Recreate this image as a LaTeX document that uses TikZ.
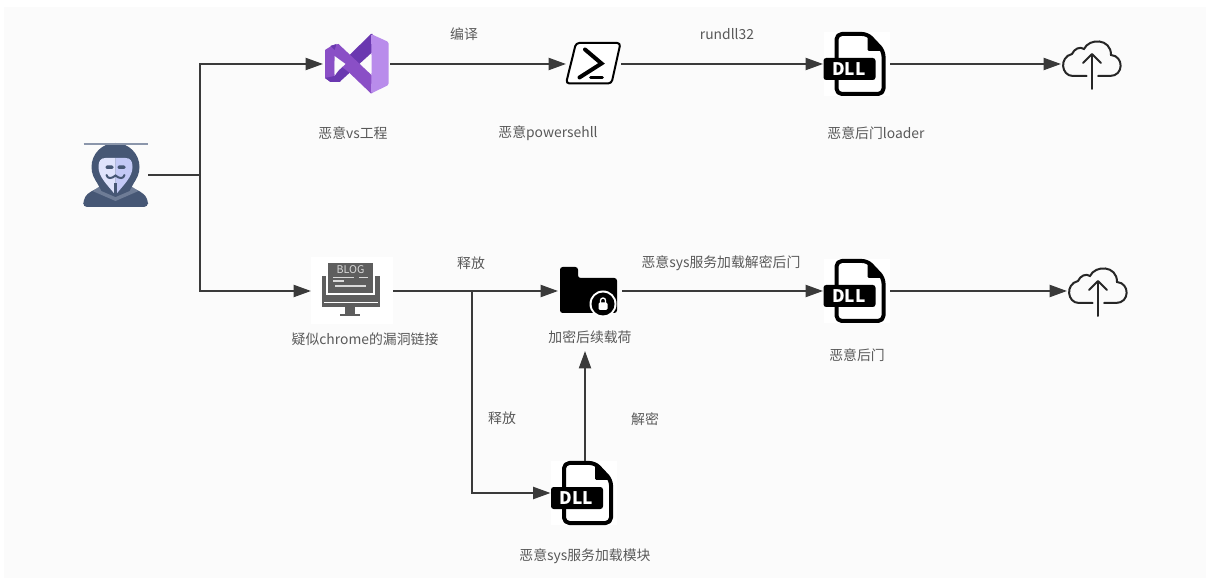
\documentclass[tikz,border=0pt]{standalone}
\usepackage{fontspec}
\setmainfont{Noto Sans CJK SC}
\usetikzlibrary{arrows.meta}
\definecolor{bgc}{HTML}{FBFBFB}
\definecolor{linec}{HTML}{3A3A3A}
\definecolor{textc}{HTML}{595959}
\definecolor{hood}{HTML}{465775}
\definecolor{collar}{HTML}{6E7C96}
\definecolor{maskl}{HTML}{DFE3FC}
\definecolor{maskr}{HTML}{C3C9F6}
\definecolor{vslight}{HTML}{B98CEB}
\definecolor{vsmid}{HTML}{8A4FC6}
\definecolor{vsdark}{HTML}{6A38B0}
\definecolor{blogc}{HTML}{5E5E5E}
\tikzset{
  x=0.75pt,y=-0.75pt,
  conn/.style={draw=linec,line width=1.5pt},
  arr/.style={conn,-{Triangle[length=13pt,width=9pt]}},
  lbl/.style={text=textc,font=\fontsize{10.4pt}{12pt}\selectfont,inner sep=0pt},
  iconbox/.style 2 args={minimum width=#1*0.75pt,minimum height=#2*0.75pt,inner sep=0pt,outer sep=0pt},
  dllicon/.pic={
    \fill[white] (-33,-32) rectangle (33,32);
    \draw[black,line width=3pt,line join=round,rounded corners=4pt] (11,-30) -- (-20,-30) -- (-20,30) -- (27,30) -- (27,-13) -- cycle;
    \fill[black,rounded corners=1pt] (11,-30) -- (27,-13) -- (11,-13) -- cycle;
    \fill[black,rounded corners=2pt] (-33,-6) rectangle (19,16);
    \node[text=white,inner sep=0pt,font=\fontsize{13pt}{14pt}\selectfont\bfseries] at (-7.5,5) {DLL};
  },
  cloudicon/.pic={
    \draw[black!85,line width=1.5pt,line cap=round] (-5.5,12)--(-19,12) .. controls (-31,12) and (-33,-7) .. (-20,-10)
      .. controls (-18,-15) and (-12,-18) .. (-8,-15) .. controls (-3,-26) and (19,-26) .. (19,-9)
      .. controls (32,-8) and (32,12) .. (18,12) -- (6,12);
    \draw[black!85,line width=1.5pt,line cap=round,line join=round] (0,25) -- (0,-9);
    \draw[black!85,line width=1.5pt,line cap=round,line join=round] (-9,-1) -- (0,-10) -- (9,-1);
  }
}
\begin{document}
\begin{tikzpicture}
\useasboundingbox (0,0) rectangle (1206,580);
\fill[white] (0,0) rectangle (1206,580);
\fill[bgc] (4,7) rectangle (1206,578);

% icon holders
\node[iconbox={65}{60}] (hacker) at (115.5,175) {};
\node[iconbox={67}{62}] (vs) at (356.5,64) {};
\node[iconbox={55}{42}] (ps) at (593.5,64) {};
\node[iconbox={67}{64}] (dlla) at (856.5,64) {};
\node[iconbox={62}{52}] (clouda) at (1092,64) {};
\node[iconbox={82}{67}] (blog) at (352,291) {};
\node[iconbox={64}{63}] (folder) at (590,291) {};
\node[iconbox={67}{64}] (dllb) at (856.5,291) {};
\node[iconbox={62}{52}] (cloudb) at (1098,291) {};
\node[iconbox={67}{64}] (dllc) at (584,493) {};

% hacker
\begin{scope}[shift={(hacker.center)}]
  \fill[hood,rounded corners=3pt] (-32.5,32) -- (-32,25) .. controls (-28,18) and (-22,15) .. (-14,12) -- (14,12) .. controls (22,15) and (28,18) .. (32.5,25) -- (32.5,32) -- cycle;
  \fill[collar] (-23,16) -- (-12,9) -- (12,9) -- (23,16) -- (0,26) -- cycle;
  \fill[hood] (0,-8) circle (24);
  \fill[hood] (-20,5) -- (20,5) -- (14,16) -- (0,22) -- (-14,16) -- cycle;
  \draw[collar!80,line width=1pt] (-32,-31) -- (32,-31);
  \fill[maskl] (0,-17) -- (-10,-17) .. controls (-15,-17) and (-17,-14) .. (-17,-8) .. controls (-17,2) and (-8,10) .. (0,20) -- cycle;
  \fill[maskr] (0,-17) -- (10,-17) .. controls (15,-17) and (17,-14) .. (17,-8) .. controls (17,2) and (8,10) .. (0,20) -- cycle;
  \fill[hood,rounded corners=1pt] (-10,-9.5) rectangle (-2,-6);
  \fill[hood,rounded corners=1pt] (2,-9.5) rectangle (10,-6);
  \draw[hood,line width=1.5pt,line cap=round] (-9,0) .. controls (-8,4) and (-4,4) .. (0,0.5) .. controls (4,4) and (8,4) .. (9,0);
  \fill[hood] (-1.5,8) rectangle (1.5,20);
\end{scope}

% visual studio
\begin{scope}[shift={(vs.center)}]
  \fill[vsmid] (-26,-17.5) -- (-31.5,-14) -- (-31.5,14) -- (-26,18) -- (-22,15) -- (-22,-15) -- cycle;
  \fill[vsdark] (-26,18) -- (-17,18) -- (16,-12) -- (16,-30) -- (14.5,-30) -- (-8,-8) -- cycle;
  \fill[vsmid] (-26,-18) -- (-18,-20) -- (16,12) -- (16,29) -- (14.5,29.5) -- (-8,8) -- (-22,-3) -- cycle;
  \fill[vsdark] (-26,-18) -- (-20,-20) -- (-22,-14) -- cycle;
  \fill[vsdark] (-31.5,14) -- (-26,18) -- (-16,18) -- (-22,12) -- cycle;
  \fill[vslight,rounded corners=1pt] (14.5,-30) -- (32,-22) -- (32,21) -- (14.5,29.5) -- (15,10) -- (15,-10) -- cycle;
  \fill[bgc] (-22,-8) -- (-11,0) -- (-22,10) -- cycle;
\end{scope}

% powershell
\begin{scope}[shift={(ps.center)},yshift=0.4pt]
  \draw[black,fill=white,line width=1.5pt,rounded corners=2.5pt,line join=round] (-17.5,-20.5) -- (27,-20.5) -- (18,20) -- (-27.5,20) -- cycle;
  \draw[black,line width=3pt,line cap=round,line join=miter] (-8.5,-14) -- (8,0) -- (-14,14);
  \draw[black,line width=2pt,line cap=round] (-3,14) -- (9,14);
\end{scope}

% DLLs
\pic at (dlla.center) {dllicon};
\pic at (dllb.center) {dllicon};
\pic at (dllc.center) {dllicon};

% clouds
\pic at (clouda.center) {cloudicon};
\pic at (cloudb.center) {cloudicon};

% blog
\begin{scope}[shift={(blog.center)}]
  \fill[white] (-41,-33.5) rectangle (41,33.5);
  \fill[blogc] (-30,-15) rectangle (28,16);
  \draw[white,line width=0.7pt] (-28,11) -- (26,11);
  \fill[blogc] (-7,16) rectangle (3,23);
  \fill[blogc] (-12,23) rectangle (8,25.5);
  \draw[white,line width=1pt,fill=blogc] (-25,-29) rectangle (22,3);
  \node[text=white!85!black,inner sep=0pt,font=\fontsize{8pt}{8pt}\selectfont] at (-1.5,-21) {BLOG};
  \draw[white!85!black,line width=.8pt] (-19,-13.5) -- (2,-13.5) (7,-13.5) -- (16,-13.5) (-19,-10) -- (-8,-10);
  \draw[white!85!black,line width=1.2pt] (-17,-5) -- (14,-5);
\end{scope}

% folder
\begin{scope}[shift={(folder.center)}]
  \fill[black,rounded corners=2pt] (-30,-24) -- (-12,-24) -- (-12,-13) -- (27,-13) -- (27,22) -- (-30,22) -- cycle;
  \fill[white] (13,13) circle (13.5);
  \fill[black] (13,13) circle (11.5);
  \fill[white,rounded corners=1pt] (8.5,11.5) rectangle (17.5,19);
  \draw[white,line width=1pt] (10.5,12) -- (10.5,9.5) arc[start angle=180,end angle=360,radius=2.5] -- (15.5,12);
\end{scope}

% labels
\node[lbl] (l1) at (353,133) {恶意vs工程};
\node[lbl] (l2) at (464,34) {编译};
\node[lbl] (l3) at (548,133) {恶意powersehll};
\node[lbl] (l4) at (727,34) {rundll32};
\node[lbl] (l5) at (876,133) {恶意后门loader};
\node[lbl] (l6) at (471,263) {释放};
\node[lbl] (l7) at (721,263) {恶意sys服务加载解密后门};
\node[lbl] (l8) at (365,339) {疑似chrome的漏洞链接};
\node[lbl] (l9) at (590,337) {加密后续载荷};
\node[lbl] (l10) at (857,355) {恶意后门};
\node[lbl] (l11) at (502,418) {释放};
\node[lbl] (l12) at (645,419) {解密};
\node[lbl] (l13) at (585,556) {恶意sys服务加载模块};

% connectors
\coordinate (j1) at (200,175);
\coordinate (j2) at (472,291);
\coordinate (up) at (585,351);
\draw[conn] (hacker.east) -- (j1);
\draw[arr] (j1) |- (vs.west);
\draw[arr] (j1) |- (blog.west);
\draw[arr] (vs.east) -- (ps.west);
\draw[arr] (ps.east) -- (dlla.west);
\draw[arr] (dlla.east) -- (clouda.west);
\draw[arr] (blog.east) -- (folder.west);
\draw[arr] (j2) |- (dllc.west);
\draw[arr] (folder.east) -- (dllb.west);
\draw[arr] (dllb.east) -- (cloudb.west);
\draw[arr] (dllc.north -| up) -- (up);
\end{tikzpicture}
\end{document}
